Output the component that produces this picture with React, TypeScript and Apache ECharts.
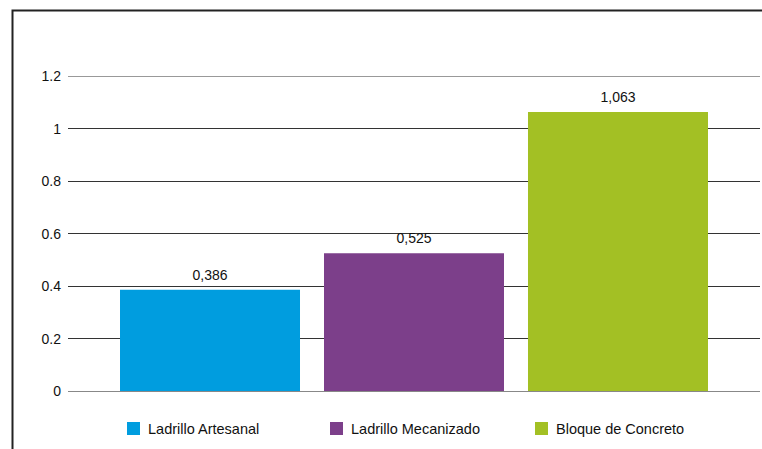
import React, { useEffect, useRef } from "react";
import * as echarts from "echarts";

const seriesNames = ["Ladrillo Artesanal", "Ladrillo Mecanizado", "Bloque de Concreto"];
const seriesValues = [0.386, 0.525, 1.063];
const seriesColors = ["#009ddf", "#7c3f8a", "#a3c024"];
const categories = [""];
const legendLefts = [127, 330, 535];

const FONT = "Liberation Sans";

export default function App() {
  const ref = useRef<HTMLDivElement>(null);
  useEffect(() => {
    if (!ref.current) return;
    const chart = echarts.init(ref.current, null, { renderer: "svg" });
    chart.setOption({
      animation: false,
      backgroundColor: "#ffffff",
      grid: { left: 68, right: 2, top: 76, bottom: 58, containLabel: false },
      xAxis: {
        type: "category",
        data: categories,
        axisLine: { show: false },
        axisTick: { show: false },
        axisLabel: { show: false },
      },
      yAxis: {
        type: "value",
        min: 0,
        max: 1.2,
        interval: 0.2,
        axisLine: { show: false },
        axisTick: { show: false },
        axisLabel: {
          margin: 7,
          color: "#111",
          fontFamily: FONT,
          fontSize: 14,
          formatter: (v: number) => String(Math.round(v * 10) / 10),
        },
        splitLine: {
          lineStyle: {
            color: ["#888", "#333", "#333", "#333", "#333", "#333", "#999"],
            width: 1,
          },
        },
      },
      legend: seriesNames.map((name, i) => ({
        left: legendLefts[i],
        top: 421,
        padding: 0,
        itemWidth: 13,
        itemHeight: 13,
        icon: "rect",
        data: [name],
        textStyle: {
          fontFamily: FONT,
          fontSize: 14.5,
          color: "#111",
          padding: [0, 0, 0, 3],
        },
      })),
      graphic: [
        {
          type: "rect",
          shape: { x: 12.5, y: 10.5, width: 800, height: 500 },
          style: { fill: "none", stroke: "#222", lineWidth: 2 },
          z: 100,
        },
      ],
      series: seriesNames.map((name, i) => ({
        name,
        type: "bar",
        barWidth: 180,
        barGap: "13.33%",
        itemStyle: { color: seriesColors[i] },
        label: {
          show: true,
          position: "top",
          distance: 8,
          color: "#111",
          fontFamily: FONT,
          fontSize: 14,
          formatter: (p: any) => String(p.value).replace(".", ","),
        },
        data: [seriesValues[i]],
      })),
    });
    return () => chart.dispose();
  }, []);
  return (
    <div
      ref={ref}
      style={{ position: "fixed", left: 0, top: 0, width: 762, height: 449 }}
    />
  );
}
